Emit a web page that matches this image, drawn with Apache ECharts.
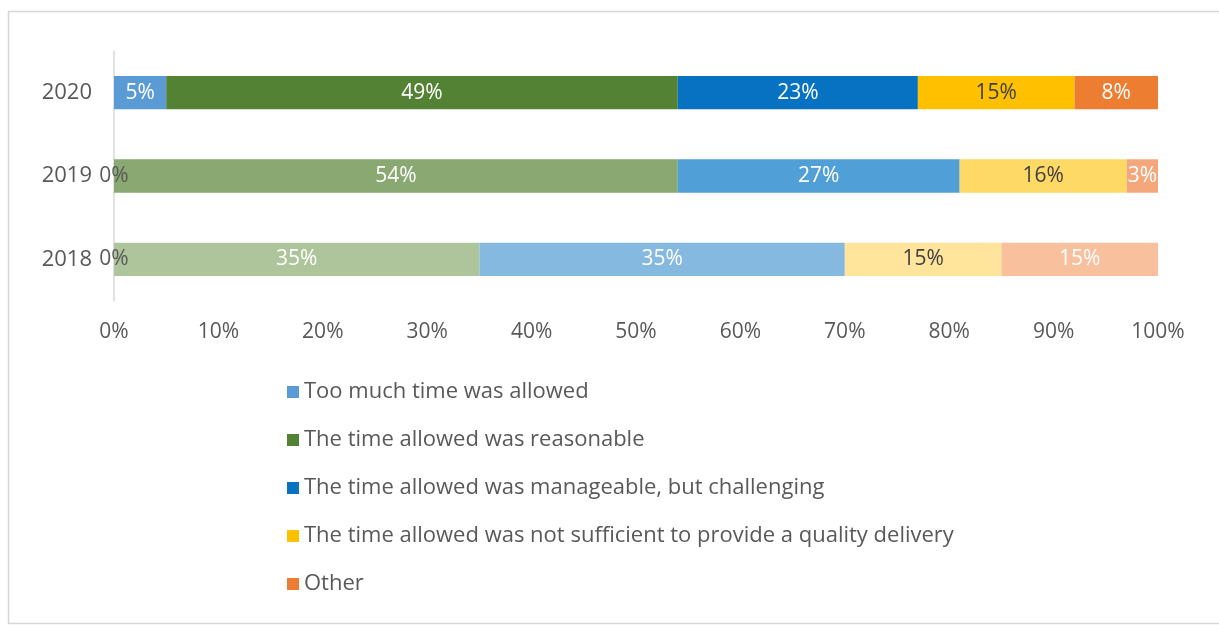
<!DOCTYPE html>
<html><head><meta charset="utf-8">
<script src="https://cdn.jsdelivr.net/npm/echarts@6/dist/echarts.min.js"></script>
<style>html,body{margin:0;padding:0;background:#fff}#c{width:1219px;height:626px}</style>
</head><body><div id="c"></div>
<script>
const years = ['2018', '2019', '2020'];
const seriesNames = [
  'Too much time was allowed',
  'The time allowed was reasonable',
  'The time allowed was manageable, but challenging',
  'The time allowed was not sufficient to provide a quality delivery',
  'Other'
];
const tooMuch      = [0, 0, 5];
const reasonable   = [35, 54, 49];
const manageable   = [35, 27, 23];
const notSufficient= [15, 16, 15];
const other        = [15, 3, 8];
const xTicks = [0, 10, 20, 30, 40, 50, 60, 70, 80, 90, 100];

// styles: colour per series per year (2018, 2019, 2020)
const palette = [
  ['#9DC3E6', '#7EB3E0', '#5B9BD5'],
  ['#AEC59C', '#8AA872', '#548235'],
  ['#85B9E0', '#509FD6', '#0872C2'],
  ['#FFE49C', '#FFD966', '#FFC000'],
  ['#F8C09C', '#F4A77A', '#ED7D31']
];
const labelColors = [
  ['#595959', '#595959', '#ffffff'],
  ['#ffffff', '#ffffff', '#ffffff'],
  ['#ffffff', '#ffffff', '#ffffff'],
  ['#404040', '#404040', '#404040'],
  ['#ffffff', '#ffffff', '#ffffff']
];
const values = [tooMuch, reasonable, manageable, notSufficient, other];
const font = '"Open Sans", "Liberation Sans", Arial, sans-serif';

const series = seriesNames.map((name, si) => ({
  name: name,
  type: 'bar',
  stack: 'total',
  barWidth: '40%',
  itemStyle: { color: palette[si][2] },
  label: {
    show: true, position: 'inside', formatter: '{c}%',
    fontFamily: font, fontSize: 21
  },
  data: values[si].map((v, yi) => ({
    value: v,
    itemStyle: { color: palette[si][yi] },
    label: { color: labelColors[si][yi] }
  }))
}));

const chart = echarts.init(document.getElementById('c'), null, { renderer: 'canvas' });
chart.setOption({
  animation: false,
  backgroundColor: '#ffffff',
  textStyle: { fontFamily: font },
  graphic: [{
    type: 'rect', left: 6, top: 9,
    shape: { width: 1230, height: 612 },
    style: { fill: 'none', stroke: '#d6d6d6', lineWidth: 1.5 },
    z: -1
  }],
  grid: { left: 114, right: 61, top: 51, height: 250, containLabel: false },
  xAxis: {
    type: 'value', min: 0, max: 100, interval: 10,
    axisLine: { show: false }, axisTick: { show: false },
    splitLine: { show: false },
    axisLabel: {
      formatter: v => xTicks.includes(v) ? v + '%' : '',
      color: '#595959', fontSize: 21, fontFamily: font, margin: 21
    }
  },
  yAxis: {
    type: 'category', data: years,
    axisLine: { show: true, lineStyle: { color: '#d9d9d9', width: 1.5 } },
    axisTick: { show: false },
    axisLabel: { color: '#595959', fontSize: 22, fontFamily: font, margin: 22 }
  },
  legend: {
    orient: 'vertical', left: 282, top: 375,
    itemWidth: 12, itemHeight: 12, itemGap: 24,
    icon: 'rect',
    textStyle: { color: '#595959', fontSize: 22, lineHeight: 24, fontFamily: font, padding: [0, 0, 0, 0] },
    data: seriesNames
  },
  series: series
});
</script>
</body></html>
